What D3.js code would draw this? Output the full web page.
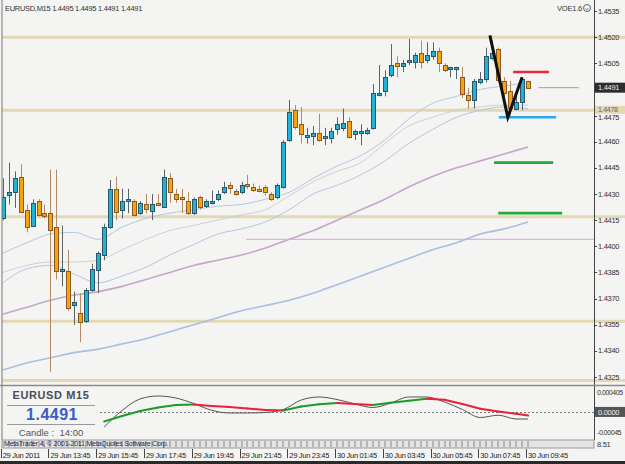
<!DOCTYPE html>
<html>
<head>
<meta charset="utf-8">
<script src="https://cdn.jsdelivr.net/npm/d3@7"></script>
<style>
  body { margin: 0; background: #fff; }
  svg { display: block; }
  text { font-family: "Liberation Sans", Arial, sans-serif; }
</style>
</head>
<body>
<svg id="chart"></svg>
<script>
// EURUSD M15 candles, 29 Jun 11:45 .. 30 Jun 09:45
const open  = [1.4416,1.4429,1.4431,1.4440,1.4421,1.4412,1.4426,1.4419,1.4419,1.4411,
               1.4386,1.4386,1.4366,1.4362,1.4357,1.4375,1.4386,1.4395,1.4411,1.4433,
               1.4421,1.4426,1.4426,1.4419,1.4424,1.4420,1.4425,1.4423,1.4439,1.4430,
               1.4428,1.4426,1.4419,1.4428,1.4423,1.4425,1.4427,1.4431,1.4435,1.4432,
               1.4431,1.4436,1.4434,1.4433,1.4434,1.4430,1.4428,1.4434,1.4461,1.4478,
               1.4470,1.4463,1.4463,1.4465,1.4462,1.4462,1.4467,1.4468,1.4472,1.4464,
               1.4465,1.4465,1.4468,1.4487,1.4489,1.4498,1.4505,1.4503,1.4506,1.4506,
               1.4511,1.4507,1.4509,1.4512,1.4504,1.4502,1.4502,1.4497,1.4487,1.4484,
               1.4494,1.4496,1.4508,1.4513,1.4495,1.4489,1.4479,1.4483,1.4495];
const high  = [1.4439,1.4448,1.4443,1.4447,1.4424,1.4427,1.4427,1.4424,1.4444,1.4444,
               1.4412,1.4398,1.4374,1.4373,1.4376,1.4390,1.4397,1.4413,1.4438,1.4440,
               1.4433,1.4433,1.4427,1.4426,1.4430,1.4430,1.4430,1.4444,1.4442,1.4433,
               1.4433,1.4431,1.4428,1.4429,1.4427,1.4432,1.4432,1.4437,1.4437,1.4433,
               1.4437,1.4441,1.4436,1.4435,1.4435,1.4431,1.4436,1.4461,1.4484,1.4481,
               1.4480,1.4468,1.4469,1.4476,1.4468,1.4468,1.4474,1.4479,1.4474,1.4467,
               1.4470,1.4468,1.4493,1.4504,1.4501,1.4516,1.4509,1.4507,1.4519,1.4511,
               1.4518,1.4517,1.4517,1.4514,1.4505,1.4503,1.4503,1.4503,1.4491,1.4496,
               1.4500,1.4514,1.4518,1.4514,1.4497,1.4495,1.4489,1.4497,1.4495];
const low   = [1.4415,1.4424,1.4422,1.4419,1.4408,1.4411,1.4417,1.4416,1.4328,1.4381,
               1.4377,1.4363,1.4355,1.4345,1.4356,1.4374,1.4373,1.4392,1.4410,1.4415,
               1.4416,1.4419,1.4417,1.4418,1.4419,1.4415,1.4423,1.4422,1.4425,1.4425,
               1.4419,1.4418,1.4418,1.4421,1.4422,1.4424,1.4426,1.4430,1.4430,1.4429,
               1.4430,1.4433,1.4431,1.4431,1.4429,1.4426,1.4427,1.4433,1.4460,1.4467,
               1.4459,1.4459,1.4458,1.4460,1.4458,1.4459,1.4464,1.4466,1.4462,1.4461,
               1.4458,1.4464,1.4467,1.4486,1.4486,1.4497,1.4497,1.4500,1.4504,1.4502,
               1.4502,1.4505,1.4507,1.4500,1.4500,1.4497,1.4496,1.4485,1.4479,1.4479,
               1.4493,1.4494,1.4507,1.4494,1.4481,1.4475,1.4478,1.4478,1.4491];
const close = [1.4428,1.4431,1.4439,1.4420,1.4411,1.4425,1.4418,1.4417,1.4409,1.4386,
               1.4387,1.4365,1.4368,1.4357,1.4375,1.4387,1.4396,1.4411,1.4433,1.4420,
               1.4426,1.4427,1.4418,1.4425,1.4421,1.4424,1.4424,1.4440,1.4431,1.4427,
               1.4427,1.4419,1.4427,1.4422,1.4426,1.4426,1.4430,1.4434,1.4433,1.4430,
               1.4435,1.4435,1.4432,1.4432,1.4431,1.4427,1.4435,1.4460,1.4477,1.4468,
               1.4464,1.4464,1.4465,1.4461,1.4463,1.4466,1.4470,1.4471,1.4463,1.4466,
               1.4466,1.4467,1.4488,1.4488,1.4497,1.4504,1.4503,1.4505,1.4507,1.4510,
               1.4506,1.4510,1.4512,1.4505,1.4501,1.4503,1.4503,1.4487,1.4484,1.4495,
               1.4496,1.4509,1.4511,1.4495,1.4488,1.4479,1.4483,1.4496,1.4491];

// moving averages, read every 4th bar
const maIndex  = [0,4,8,12,16,20,24,28,32,36,40,44,48,52,56,60,64,68,72,76,80,84,88];
const maUpper  = [1.4396,1.4402,1.4407,1.4408,1.4404,1.4411,1.4416,1.4419,1.4421,1.4423,1.4424,1.4427,
                  1.4431,1.4439,1.4446,1.4452,1.4461,1.4473,1.4482,1.4486,1.4490,1.4492,1.4494];
const maMiddle = [1.4385,1.4389,1.4391,1.4391,1.4392,1.4398,1.4404,1.4409,1.4412,1.4415,1.4418,1.4421,
                  1.4429,1.4437,1.4443,1.4448,1.4459,1.4469,1.4474,1.4478,1.4480,1.4481,1.4481];
const maLower  = [1.4379,1.4387,1.4389,1.4384,1.4379,1.4383,1.4388,1.4395,1.4401,1.4407,1.4410,1.4414,
                  1.4421,1.4430,1.4435,1.4441,1.4449,1.4459,1.4467,1.4474,1.4478,1.4480,1.4479];
const maLong   = [1.4361,1.4365,1.4369,1.4372,1.4374,1.4377,1.4381,1.4385,1.4389,1.4392,1.4395,1.4399,
                  1.4404,1.4409,1.4415,1.4421,1.4427,1.4434,1.4440,1.4445,1.4449,1.4453,1.4457];
const maSlow   = [1.4329,1.4333,1.4336,1.4339,1.4341,1.4344,1.4347,1.4351,1.4355,1.4359,1.4363,1.4366,
                  1.4369,1.4373,1.4378,1.4383,1.4388,1.4393,1.4398,1.4402,1.4407,1.4410,1.4414];

// oscillator window, read every 3rd bar
const oscIndex  = [17,20,23,26,29,32,35,38,41,44,47,50,53,56,59,62,65,68,71,74,77,80,83,86,88];
const oscMain   = [-0.000204,-0.000087,0.000020,0.000095,0.000149,0.000159,0.000127,0.000106,0.000074,
                   0.000042,0.000033,0.000117,0.000164,0.000191,0.000170,0.000149,0.000198,0.000238,
                   0.000281,0.000260,0.000170,0.000067,0.000010,-0.000040,-0.000076];
const oscSignal = [-0.000322,0.000031,0.000277,0.000341,0.000298,0.000181,0.000035,-0.000022,-0.000022,
                   -0.000012,0.000052,0.000255,0.000320,0.000266,0.000170,0.000095,0.000191,0.000320,
                   0.000320,0.000213,0.000052,-0.000119,-0.000070,-0.000151,-0.000151];

// horizontal support / resistance levels
const levels      = [1.4520, 1.4478, 1.4417, 1.4357, 1.4323];
const levelLabels = ["", "1.4478", "", "", ""];

// short drawn segments (start bar, end bar, price)
const markStart = [85.5, 89.7, 83.1, 82.3, 83.0, 40.8];
const markEnd   = [91.5, 96.5, 92.7, 92.2, 93.7, 99.0];
const markPrice = [1.4500, 1.4491, 1.4474, 1.4448, 1.4419, 1.4404];

// hand drawn V
const vIndex = [81.6, 84.6, 87.0];
const vPrice = [1.4521, 1.4474, 1.4497];

const priceTicks = [1.4325,1.4340,1.4355,1.4370,1.4385,1.4400,1.4415,1.4430,1.4445,1.4460,1.4475,1.4505,1.4520,1.4535];
const timeIndex  = [0,8,16,24,32,40,48,56,64,72,80,88];
const timeLabels = ["29 Jun 2011","29 Jun 13:45","29 Jun 15:45","29 Jun 17:45","29 Jun 19:45","29 Jun 21:45",
                    "29 Jun 23:45","30 Jun 01:45","30 Jun 03:45","30 Jun 05:45","30 Jun 07:45","30 Jun 09:45"];
const lastPrice = 1.4491;

const width = 625, height = 464;
const plotL = 2, plotR = 594, plotT = 2, plotB = 385;

const svg = d3.select("#chart").attr("width", width).attr("height", height);

const x = d3.scaleLinear().domain([0, 88]).range([2.7, 528.1]);
const y = d3.scaleLinear().domain([1.4325, 1.4535]).range([377, 11]);
const yOsc = d3.scaleLinear().domain([-0.00045, 0.000405]).range([433, 393]);

svg.append("rect").attr("width", width).attr("height", height).attr("fill", "#f4f4f2");

svg.append("defs").append("clipPath").attr("id", "plot")
  .append("rect").attr("x", plotL).attr("y", plotT).attr("width", plotR - plotL).attr("height", plotB - plotT);

// beige levels run across the price scale too
svg.append("g").selectAll("line").data(levels).join("line")
  .attr("x1", plotL).attr("x2", width)
  .attr("y1", d => y(d)).attr("y2", d => y(d))
  .attr("stroke", "#e2d9b4").attr("stroke-width", 3);

const g = svg.append("g").attr("clip-path", "url(#plot)");

// moving averages
const maLine = vals => d3.line()
  .x((d, k) => x(maIndex[k]))
  .y(d => y(d))
  .curve(d3.curveMonotoneX)(vals);

const maStyles = [
  { vals: maSlow,   color: "#a9bee2", w: 1.6 },
  { vals: maLong,   color: "#c6a6cc", w: 1.6 },
  { vals: maLower,  color: "#b4c6e4", w: 1 },
  { vals: maMiddle, color: "#cfd0d4", w: 1 },
  { vals: maUpper,  color: "#b4c6e4", w: 1 },
];
g.append("g").selectAll("path").data(maStyles).join("path")
  .attr("d", d => maLine(d.vals))
  .attr("fill", "none")
  .attr("stroke", d => d.color)
  .attr("stroke-width", d => d.w);

// drawn level segments
const markColors = ["#e8283c", "#b09a9a", "#2aa8ec", "#22aa3a", "#22aa3a", "#dca2e4"];
const markWidths = [2.5, 1, 2.5, 2.8, 2.8, 1];
g.append("g").selectAll("line").data(markPrice).join("line")
  .attr("x1", (d, k) => x(markStart[k])).attr("x2", (d, k) => x(markEnd[k]))
  .attr("y1", d => y(d)).attr("y2", d => y(d))
  .attr("stroke", (d, k) => markColors[k])
  .attr("stroke-width", (d, k) => markWidths[k]);

// candles
const bars = open.map((o, i) => ({ i, o, h: high[i], l: low[i], c: close[i] }));
const cx = i => Math.round(x(i)) + 0.5;

const candle = g.append("g").selectAll("g").data(bars).join("g");
candle.append("line")
  .attr("x1", d => cx(d.i)).attr("x2", d => cx(d.i))
  .attr("y1", d => y(d.h)).attr("y2", d => y(d.l))
  .attr("stroke", d => d.c >= d.o ? "#58646a" : "#b48a62")
  .attr("stroke-width", 1);
candle.append("rect")
  .attr("x", d => cx(d.i) - 2)
  .attr("y", d => Math.round(y(Math.max(d.o, d.c))) + 0.5)
  .attr("width", 4)
  .attr("height", d => Math.max(1, Math.round(Math.abs(y(d.o) - y(d.c)))))
  .attr("fill", d => d.c >= d.o ? "#1fb4d6" : "#f8a20c")
  .attr("stroke", d => d.c >= d.o ? "#2c5666" : "#8a5a24")
  .attr("stroke-width", 1);

// V
g.append("path")
  .attr("d", d3.line().x((d, k) => x(vIndex[k])).y(d => y(d))(vPrice))
  .attr("fill", "none").attr("stroke", "#111").attr("stroke-width", 3)
  .attr("stroke-linejoin", "miter");

// frame
svg.append("line").attr("x1", plotL).attr("x2", plotL).attr("y1", 0).attr("y2", 440)
  .attr("stroke", "#777");
svg.append("line").attr("x1", plotR + 0.5).attr("x2", plotR + 0.5).attr("y1", 0).attr("y2", 440)
  .attr("stroke", "#444");
svg.append("line").attr("x1", 0).attr("x2", width).attr("y1", plotB + 0.5).attr("y2", plotB + 0.5)
  .attr("stroke", "#8a8a8a").attr("stroke-width", 1.5);

// price scale
const axis = svg.append("g").attr("font-size", 7.5).attr("letter-spacing", -0.3).attr("fill", "#333");
axis.selectAll("line").data(priceTicks).join("line")
  .attr("x1", plotR).attr("x2", plotR + 3)
  .attr("y1", d => Math.round(y(d)) + 0.5).attr("y2", d => Math.round(y(d)) + 0.5)
  .attr("stroke", "#444");
axis.selectAll("text").data(priceTicks).join("text")
  .attr("x", 598).attr("y", d => y(d) + (d === 1.4475 ? 1.5 : 0)).attr("dy", "0.35em")
  .text(d => d.toFixed(4));

const lvlBox = svg.append("g").selectAll("g").data(levels).join("g")
  .filter((d, k) => levelLabels[k] !== "");
lvlBox.append("rect").attr("x", 595).attr("y", d => y(d) - 4.5).attr("width", 30).attr("height", 8)
  .attr("fill", "#e2d9b4");
lvlBox.append("text").attr("x", 598).attr("y", d => y(d) - 1).attr("dy", "0.35em")
  .attr("font-size", 7).attr("letter-spacing", -0.3).attr("fill", "#666")
  .text((d) => levelLabels[levels.indexOf(d)]);

svg.append("rect").attr("x", 595).attr("y", y(lastPrice) - 5).attr("width", 30).attr("height", 10)
  .attr("fill", "#2e2e2e");
svg.append("text").attr("x", 598).attr("y", y(lastPrice)).attr("dy", "0.35em")
  .attr("font-size", 7.5).attr("letter-spacing", -0.3).attr("fill", "#e8e8e8")
  .text(lastPrice.toFixed(4));

// header texts
svg.append("text").attr("x", 5).attr("y", 11)
  .attr("font-size", 7.5).attr("letter-spacing", -0.3).attr("fill", "#333")
  .text("EURUSD,M15  1.4495 1.4495 1.4491 1.4491");
svg.append("text").attr("x", 557).attr("y", 11)
  .attr("font-size", 7.5).attr("letter-spacing", -0.2).attr("fill", "#333")
  .text("VOE1.6");
svg.append("circle").attr("cx", 587).attr("cy", 8).attr("r", 3.5)
  .attr("fill", "none").attr("stroke", "#666");
svg.append("path").attr("d", "M585.3,8.6 Q587,10.6 588.7,8.6")
  .attr("fill", "none").attr("stroke", "#666").attr("stroke-width", 0.8);

// oscillator window
svg.append("line").attr("x1", 100).attr("x2", plotR)
  .attr("y1", Math.round(yOsc(0)) + 0.5).attr("y2", Math.round(yOsc(0)) + 0.5)
  .attr("stroke", "#777").attr("stroke-dasharray", "2,2");

svg.append("path")
  .attr("d", d3.line().x((d, k) => x(oscIndex[k])).y(d => yOsc(d)).curve(d3.curveMonotoneX)(oscSignal))
  .attr("fill", "none").attr("stroke", "#555").attr("stroke-width", 1);

const segs = oscMain.slice(1).map((v, k) => ({ a: k, b: k + 1, up: v >= oscMain[k] }));
svg.append("g").selectAll("line").data(segs).join("line")
  .attr("x1", d => x(oscIndex[d.a])).attr("x2", d => x(oscIndex[d.b]))
  .attr("y1", d => yOsc(oscMain[d.a])).attr("y2", d => yOsc(oscMain[d.b]))
  .attr("stroke", d => d.up ? "#1e9a2a" : "#e8203a")
  .attr("stroke-width", 2).attr("stroke-linecap", "round");

const oscTicks = [0.000405, -0.00045];
const oscTickLabels = ["0.000405", "-0.00045"];
svg.append("g").selectAll("text").data(oscTicks).join("text")
  .attr("x", 597).attr("y", d => yOsc(d)).attr("dy", "0.35em")
  .attr("font-size", 7).attr("letter-spacing", -0.45).attr("fill", "#333")
  .text((d, k) => oscTickLabels[k]);
svg.append("rect").attr("x", 595).attr("y", yOsc(0) - 5).attr("width", 30).attr("height", 10)
  .attr("fill", "#555");
svg.append("text").attr("x", 598).attr("y", yOsc(0)).attr("dy", "0.35em")
  .attr("font-size", 7.5).attr("letter-spacing", -0.3).attr("fill", "#eee").text("0.0000");

// info box
const info = svg.append("g");
info.selectAll("line").data([405, 424]).join("line")
  .attr("x1", 7).attr("x2", 95).attr("y1", d => d + 0.5).attr("y2", d => d + 0.5)
  .attr("stroke", "#999");
info.append("text").attr("x", 51).attr("y", 399).attr("text-anchor", "middle")
  .attr("font-size", 11).attr("font-weight", "bold").attr("fill", "#4a4c58")
  .attr("letter-spacing", 0.6).text("EURUSD M15");
info.append("text").attr("x", 52).attr("y", 420).attr("text-anchor", "middle")
  .attr("font-size", 16).attr("font-weight", "bold").attr("fill", "#3a5cc8")
  .attr("letter-spacing", 0.5).text("1.4491");
info.append("text").attr("x", 51).attr("y", 436).attr("text-anchor", "middle")
  .attr("font-size", 9.5).attr("fill", "#555").attr("xml:space", "preserve")
  .text("Candle :  14:00");

// time scale strip
svg.append("rect").attr("x", plotL).attr("y", 440).attr("width", plotR - plotL).attr("height", 8)
  .attr("fill", "#e4e4e4").attr("stroke", "#999");
svg.append("g").selectAll("rect").data(open).join("rect")
  .attr("x", (d, i) => cx(i) - 1.5).attr("y", 441).attr("width", 2).attr("height", 6)
  .attr("fill", "#b6b6b6");
svg.append("text").attr("x", 4).attr("y", 446)
  .attr("font-size", 7).attr("letter-spacing", -0.2).attr("fill", "#1c2a58")
  .text("MetaTrader 4, © 2001-2011 MetaQuotes Software Corp.");
svg.append("text").attr("x", 597).attr("y", 447)
  .attr("font-size", 7.5).attr("letter-spacing", -0.3).attr("fill", "#333").text("8.51");

const tl = svg.append("g").attr("font-size", 7.5).attr("letter-spacing", -0.3).attr("fill", "#222");
tl.selectAll("line").data(timeIndex).join("line")
  .attr("x1", d => Math.round(x(d)) - 1.5).attr("x2", d => Math.round(x(d)) - 1.5)
  .attr("y1", 449).attr("y2", 458).attr("stroke", "#444");
tl.selectAll("text").data(timeLabels).join("text")
  .attr("x", (d, k) => x(timeIndex[k]))
  .attr("y", 458)
  .text(d => d);

svg.append("rect").attr("x", 0).attr("y", 461).attr("width", width).attr("height", 3).attr("fill", "#2a2a2a");
</script>
</body>
</html>
